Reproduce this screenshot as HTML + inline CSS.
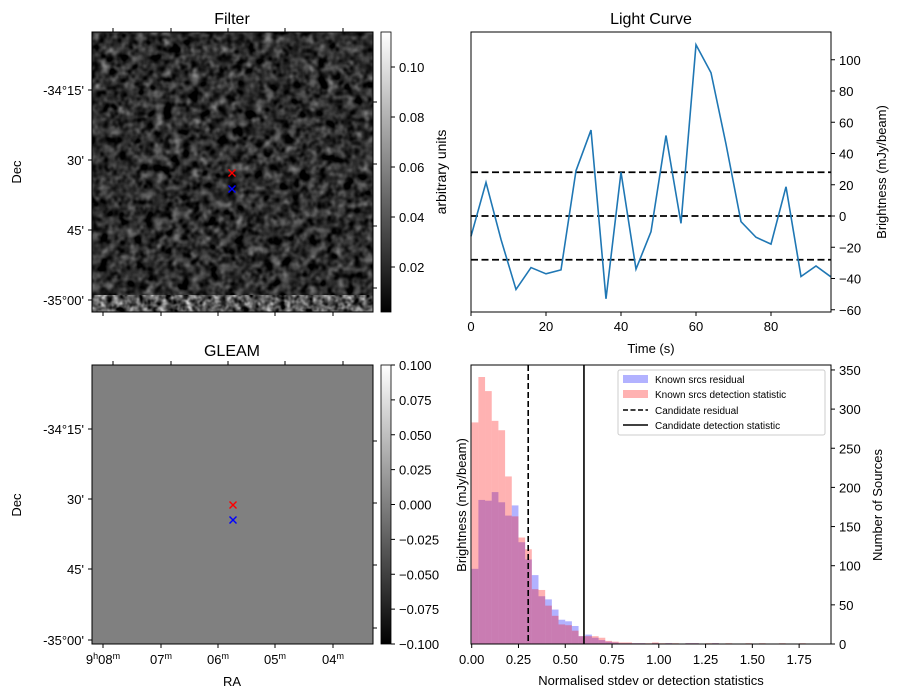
<!DOCTYPE html>
<html><head><meta charset="utf-8">
<style>
body{margin:0;background:#fff;}
svg{font-family:"Liberation Sans","DejaVu Sans",sans-serif;display:block;}
</style></head>
<body>
<svg id="fig" width="899" height="699" viewBox="0 0 899 699">
<defs>
<filter id="noise" x="0" y="0" width="100%" height="100%" color-interpolation-filters="sRGB">
<feTurbulence type="fractalNoise" baseFrequency="0.11" numOctaves="2" seed="7"/>
<feColorMatrix type="matrix" values="0.33 0.33 0.33 0 0  0.33 0.33 0.33 0 0  0.33 0.33 0.33 0 0  0 0 0 0 1"/>
<feComponentTransfer><feFuncR type="linear" slope="1.4" intercept="-0.52"/><feFuncG type="linear" slope="1.4" intercept="-0.52"/><feFuncB type="linear" slope="1.4" intercept="-0.52"/></feComponentTransfer>
</filter>
<filter id="noise2" x="0" y="0" width="100%" height="100%" color-interpolation-filters="sRGB">
<feTurbulence type="fractalNoise" baseFrequency="0.15" numOctaves="2" seed="3"/>
<feColorMatrix type="matrix" values="0.33 0.33 0.33 0 0  0.33 0.33 0.33 0 0  0.33 0.33 0.33 0 0  0 0 0 0 1"/>
<feComponentTransfer><feFuncR type="linear" slope="2.2" intercept="-0.75"/><feFuncG type="linear" slope="2.2" intercept="-0.75"/><feFuncB type="linear" slope="2.2" intercept="-0.75"/></feComponentTransfer>
</filter>
<linearGradient id="gray" x1="0" y1="1" x2="0" y2="0"><stop offset="0" stop-color="#000"/><stop offset="1" stop-color="#fff"/></linearGradient>
</defs>

<!-- Filter panel -->
<text x="232" y="24" font-size="16" text-anchor="middle">Filter</text>
<rect x="92" y="32" width="281" height="280" fill="#111"/>
<rect x="92" y="32" width="281" height="280" filter="url(#noise)"/>
<rect x="92" y="295" width="281" height="17" filter="url(#noise2)"/>
<rect x="92" y="32" width="281" height="280" fill="none" stroke="#000" stroke-width="1"/>
<rect x="381" y="32" width="10" height="280" fill="url(#gray)" stroke="#000" stroke-width="0.8"/>
<g id="filterAxes"></g>
<text transform="translate(446,172) rotate(-90)" font-size="14" text-anchor="middle">arbitrary units</text>
<text transform="translate(21,172) rotate(-90)" font-size="13" text-anchor="middle">Dec</text>

<!-- GLEAM panel -->
<text x="232" y="356" font-size="16" text-anchor="middle">GLEAM</text>
<rect x="92" y="365" width="281" height="279" fill="#808080" stroke="#000" stroke-width="1"/>
<rect x="381" y="365" width="10" height="279" fill="url(#gray)" stroke="#000" stroke-width="0.8"/>
<g id="gleamAxes"></g>
<text transform="translate(21,505) rotate(-90)" font-size="13" text-anchor="middle">Dec</text>
<text x="232" y="686" font-size="13" text-anchor="middle">RA</text>

<!-- Light curve -->
<text x="651" y="24" font-size="16" text-anchor="middle">Light Curve</text>
<g id="lc"></g>
<rect x="471" y="32" width="360" height="280" fill="none" stroke="#000" stroke-width="1"/>
<text x="651" y="353" font-size="13" text-anchor="middle">Time (s)</text>
<text transform="translate(886,172) rotate(-90)" font-size="13" text-anchor="middle">Brightness (mJy/beam)</text>

<!-- Histogram -->
<g id="hist"></g>
<rect x="471" y="365" width="360" height="279" fill="none" stroke="#000" stroke-width="1"/>
<text x="651" y="685" font-size="13" text-anchor="middle">Normalised stdev or detection statistics</text>
<text transform="translate(466,505) rotate(-90)" font-size="13" text-anchor="middle">Brightness (mJy/beam)</text>
<text transform="translate(882,505) rotate(-90)" font-size="13" text-anchor="middle">Number of Sources</text>
<g>
<rect x="618" y="370" width="207" height="65" fill="#fff" fill-opacity="0.8" stroke="#ccc" rx="2"/>
<rect x="623" y="375" width="25" height="8" fill="#0000ff" fill-opacity="0.3"/>
<text x="655" y="383" font-size="10">Known srcs residual</text>
<rect x="623" y="390" width="25" height="8" fill="#ff0000" fill-opacity="0.3"/>
<text x="655" y="398" font-size="10">Known srcs detection statistic</text>
<line x1="623" y1="410" x2="648" y2="410" stroke="#000" stroke-width="1.5" stroke-dasharray="5,2.5"/>
<text x="655" y="414" font-size="10">Candidate residual</text>
<line x1="623" y1="425" x2="648" y2="425" stroke="#000" stroke-width="1.5"/>
<text x="655" y="429" font-size="10">Candidate detection statistic</text>
</g>
</svg>
<script>
// ---- Light curve data ----
const lcTimes = [0,4,8,12,16,20,24,28,32,36,40,44,48,52,56,60,64,68,72,76,80,84,88,92,96];
const lcValues = [-13,21.5,-15,-47,-33,-37,-34.5,29,55,-53,28,-34,-10,51.5,-4.7,109.6,91.7,46,-3.6,-13.6,-18,18.7,-38.7,-32,-39];
const lcThresholds = [28,0,-28];
const lcXTicks = [0,20,40,60,80];
const lcYTicks = [-60,-40,-20,0,20,40,60,80,100];
// ---- Histogram data ----
const binWidth = 0.0357;
const histRed = [283,341,323,285,273,214,163,136,121,70,69,49,36,25,24,17,10,10,10,8,4,3,2,2,1,1,1,2,1,1,1,0,1,1,0,1,1,0,1,0,0,1,0,1,0,0,1,0,0,1,0,0,0];
const histBlue = [96,184,183,194,181,164,177,130,108,88,61,57,44,31,29,23,10,12,8,5,3,2,1,1,1,1,0,1,0,1,0,0,1,1,0,0,1,0,0,0,0,0,0,0,0,0,0,0,0,0,0,0,0];
const candidateResidual = [0.302];
const candidateDetection = [0.60];
const histXTicks = [0,0.25,0.5,0.75,1.0,1.25,1.5,1.75];
const histYTicks = [0,50,100,150,200,250,300,350];
// ---- Image axes ----
const decLabels = ["-34°15'","30'","45'","-35°00'"];
const raLabels = ["08","07","06","05","04"];
const filterCbTicks = [0.02,0.04,0.06,0.08,0.10];
const gleamCbTicks = [-0.100,-0.075,-0.050,-0.025,0.000,0.025,0.050,0.075,0.100];

const NS='http://www.w3.org/2000/svg';
function mk(tag,attrs,parent){const e=document.createElementNS(NS,tag);for(const k in attrs)e.setAttribute(k,attrs[k]);parent.appendChild(e);return e;}
function fmt(v,d){return v<0?'\u2212'+Math.abs(v).toFixed(d):v.toFixed(d);}

// Light curve
const lc=document.getElementById('lc');
const lx=t=>471+t/96*360;
const ly=v=>216-v*1.5625;
lcXTicks.forEach(t=>{
  const tk=mk('line',{x1:lx(t),x2:lx(t),y1:312,y2:316,stroke:'#000'},lc);
  
  
  const tx=mk('text',{x:lx(t),y:331,'font-size':13,'text-anchor':'middle'},lc);tx.textContent=t;
  
  
});
lcYTicks.forEach(v=>{
  const tk=mk('line',{x1:831,x2:835,y1:ly(v),y2:ly(v),stroke:'#000'},lc);
  
  
  const tx=mk('text',{x:839,y:ly(v)+5,'font-size':13},lc);tx.textContent=fmt(v,0);
  
  
});
lcThresholds.forEach(v=>{
  const l=mk('line',{x1:471,x2:831,y1:ly(v),y2:ly(v),stroke:'#000','stroke-width':1.8,'stroke-dasharray':'7,3.5'},lc);
  
  
});
const pts=lcTimes.map((t,i)=>lx(t)+','+ly(lcValues[i])).join(' ');
const pl=mk('polyline',{points:pts,fill:'none',stroke:'#1f77b4','stroke-width':1.6},lc);



// Histogram
const h=document.getElementById('hist');
const hx=v=>471.7+v*187.1;
const hy=c=>644-c*0.783;
const drawBars=(arr,color,name)=>arr.forEach((c,i)=>{
  if(c<=0)return;
  const r=mk('rect',{x:hx(i*binWidth),y:hy(c),width:hx((i+1)*binWidth)-hx(i*binWidth),height:644-hy(c),fill:color,'fill-opacity':0.3},h);
  
  
});
drawBars(histBlue,'#0000ff','hist-bar-residual');
drawBars(histRed,'#ff0000','hist-bar-detection');
candidateResidual.forEach(v=>{
  const l=mk('line',{x1:hx(v),x2:hx(v),y1:365,y2:644,stroke:'#000','stroke-width':1.6,'stroke-dasharray':'6,3'},h);
  
  
});
candidateDetection.forEach(v=>{
  const l=mk('line',{x1:hx(v),x2:hx(v),y1:365,y2:644,stroke:'#000','stroke-width':1.6},h);
  
  
});
histXTicks.forEach(v=>{
  const tk=mk('line',{x1:hx(v),x2:hx(v),y1:644,y2:648,stroke:'#000'},h);
  
  
  const tx=mk('text',{x:hx(v),y:664,'font-size':13,'text-anchor':'middle'},h);tx.textContent=v.toFixed(2);
  
  
});
histYTicks.forEach(v=>{
  const tk=mk('line',{x1:831,x2:835,y1:hy(v),y2:hy(v),stroke:'#000'},h);
  
  
  const tx=mk('text',{x:839,y:hy(v)+5,'font-size':13},h);tx.textContent=v;
  
  
});

// Image axes
function imgAxes(g,top,bottom,decYs,raXs,cbTicks,cbY,dec,withRA,markers){
  decYs.forEach((y,i)=>{
    const tk=mk('line',{x1:88,x2:92,y1:y,y2:y,stroke:'#000'},g);
    
    
    mk('line',{x1:373,x2:377,y1:y+(i-1.5)*-8,y2:y+(i-1.5)*-8,stroke:'#000'},g);
    const tx=mk('text',{x:84,y:y+5,'font-size':13,'text-anchor':'end'},g);tx.textContent=decLabels[i];
    
    
  });
  raXs.forEach((x,i)=>{
    const tk=mk('line',{x1:x,x2:x,y1:bottom,y2:bottom+4,stroke:'#000'},g);
    
    
    mk('line',{x1:x+10,x2:x+10,y1:top-4,y2:top,stroke:'#000'},g);
    if(withRA){
      const tx=mk('text',{x:x,y:bottom+20,'font-size':13,'text-anchor':'middle'},g);
      
      
      if(i===0){tx.innerHTML='9<tspan font-size="9" dy="-5">h</tspan><tspan dy="5">'+raLabels[i]+'</tspan><tspan font-size="9" dy="-5">m</tspan>';}
      else{tx.innerHTML=raLabels[i]+'<tspan font-size="9" dy="-5">m</tspan>';}
    }
  });
  cbTicks.forEach(v=>{
    const y=cbY(v);
    const tk=mk('line',{x1:391,x2:395,y1:y,y2:y,stroke:'#000'},g);
    
    
    const tx=mk('text',{x:399,y:y+5,'font-size':13},g);tx.textContent=fmt(v,dec);
    
    
  });
  markers.forEach(m=>{
    const s=3.5;
    const grp=mk('g',{stroke:m.c,'stroke-width':1.4},g);
    
    
    mk('line',{x1:m.x-s,y1:m.y-s,x2:m.x+s,y2:m.y+s},grp);
    mk('line',{x1:m.x-s,y1:m.y+s,x2:m.x+s,y2:m.y-s},grp);
  });
}
imgAxes(document.getElementById('filterAxes'),32,312,[90,160,230,300],[103,161,218,275,333],filterCbTicks,v=>267-(v-0.02)*2500,2,false,
  [{x:232,y:173,c:'#ff0000',n:'candidate-marker-red'},{x:232,y:189,c:'#0000ff',n:'candidate-marker-blue'}]);
imgAxes(document.getElementById('gleamAxes'),365,644,[429,499,569,640],[103,161,218,275,333],gleamCbTicks,v=>504.5-v*1395,3,true,
  [{x:233,y:505,c:'#ff0000',n:'gleam-marker-red'},{x:233,y:520,c:'#0000ff',n:'gleam-marker-blue'}]);
</script>
</body></html>
